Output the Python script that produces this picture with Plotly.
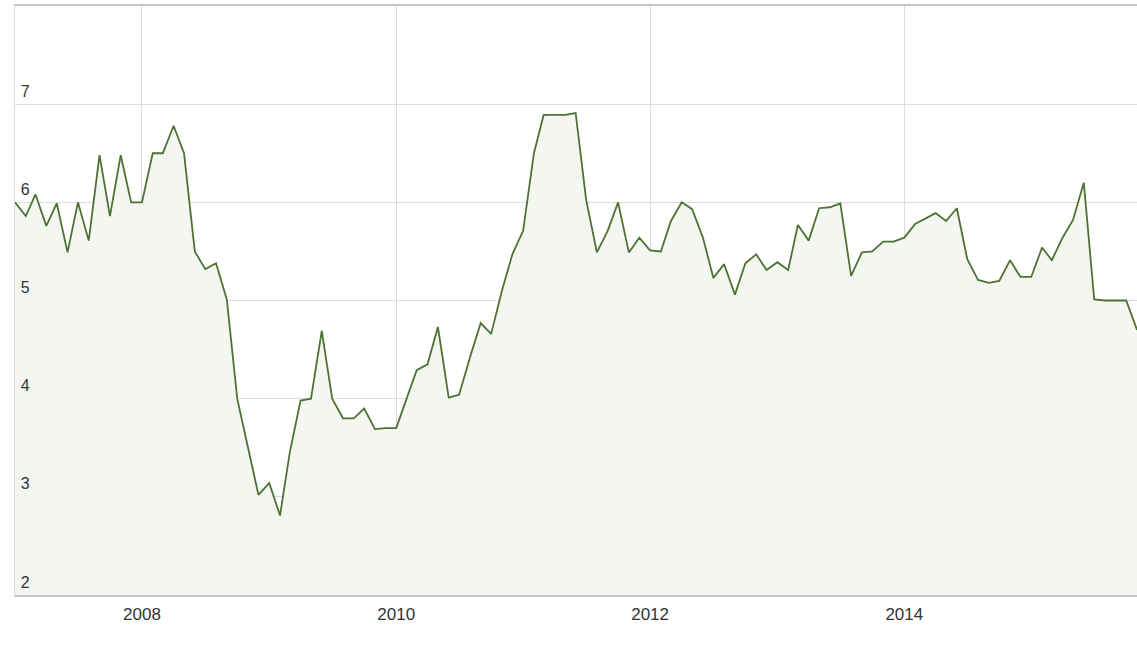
import pandas as pd
import plotly.graph_objects as go

start_month = "2007-01-01"
values = [
    # 2007
    6.00, 5.86, 6.08, 5.76, 5.99, 5.49, 6.00, 5.61, 6.48, 5.86, 6.48, 6.00,
    # 2008
    6.00, 6.50, 6.50, 6.78, 6.50, 5.50, 5.32, 5.38, 5.01, 4.00, 3.50, 3.02,
    # 2009
    3.14, 2.81, 3.45, 3.98, 4.00, 4.69, 4.00, 3.80, 3.80, 3.90, 3.69, 3.70,
    # 2010
    3.70, 4.00, 4.29, 4.35, 4.73, 4.01, 4.04, 4.42, 4.77, 4.66, 5.10, 5.47,
    # 2011
    5.71, 6.50, 6.89, 6.89, 6.89, 6.91, 6.03, 5.49, 5.71, 6.00, 5.49, 5.64,
    # 2012
    5.51, 5.50, 5.81, 6.00, 5.93, 5.64, 5.23, 5.37, 5.06, 5.38, 5.47, 5.31,
    # 2013
    5.39, 5.31, 5.77, 5.61, 5.94, 5.95, 5.99, 5.25, 5.49, 5.50, 5.60, 5.60,
    # 2014
    5.64, 5.78, 5.83, 5.89, 5.81, 5.94, 5.42, 5.21, 5.18, 5.20, 5.41, 5.24,
    # 2015
    5.24, 5.54, 5.41, 5.64, 5.82, 6.20, 5.01, 5.00, 5.00, 5.00, 4.70,
]
dates = pd.date_range(start_month, periods=len(values), freq="MS")

x_tick_vals = ["2008-01-01", "2010-01-01", "2012-01-01", "2014-01-01"]
x_tick_text = ["2008", "2010", "2012", "2014"]
y_tick_vals = [2, 3, 4, 5, 6, 7]
y_tick_text = ["2", "3", "4", "5", "6", "7"]

fig = go.Figure()
fig.add_trace(go.Scatter(
    x=dates, y=values, mode="lines",
    line=dict(color="#4d7334", width=1.8),
    fill="tozeroy", fillcolor="#f4f7f1",
    hoverinfo="x+y",
))

fig.update_layout(
    width=1137, height=645,
    margin=dict(l=15, r=0, t=6, b=50, autoexpand=False),
    paper_bgcolor="white", plot_bgcolor="white",
    showlegend=False,
    font=dict(family="Liberation Sans, Arial, sans-serif", color="#333333"),
)
fig.update_xaxes(
    range=["2007-01-01", "2015-11-01"],
    tickvals=x_tick_vals, ticktext=x_tick_text,
    tickfont=dict(size=17, color="#333333"),
    ticklabelstandoff=3,
    showgrid=True, gridcolor="#dcdcdc", gridwidth=1,
    showline=True, linecolor="#c8c8c8", linewidth=2, mirror=True,
    ticks="", zeroline=False,
)
fig.update_yaxes(
    range=[2, 8],
    tickvals=y_tick_vals, ticktext=y_tick_text,
    tickfont=dict(size=16, color="#333333"),
    ticklabelposition="inside", ticklabelshift=-13, ticklabelstandoff=6,
    ticklabeloverflow="allow",
    showgrid=True, gridcolor="#dcdcdc", gridwidth=1,
    showline=True, linecolor="#dcdcdc", linewidth=1,
    ticks="", zeroline=False,
)

fig.write_html(
    "out.html",
    config={"displayModeBar": False},
    post_script="document.body.style.margin='0';document.body.style.overflow='hidden';"
    "document.documentElement.style.overflow='hidden';",
)
